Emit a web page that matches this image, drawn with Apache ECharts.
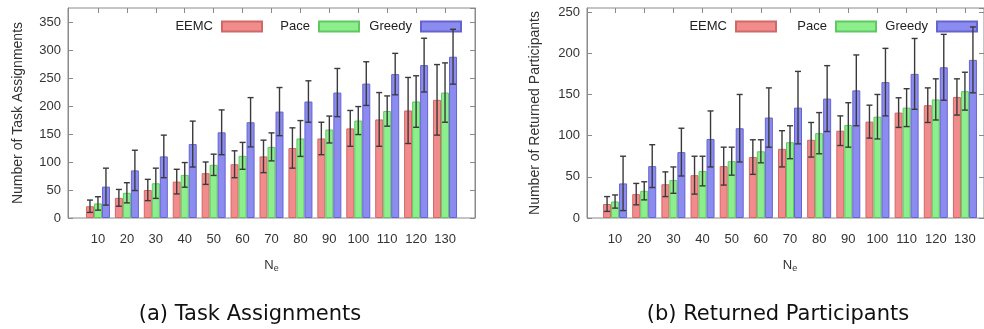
<!DOCTYPE html>
<html>
<head>
<meta charset="utf-8">
<script src="https://cdn.jsdelivr.net/npm/echarts@6/dist/echarts.min.js"></script>
<style>
html,body{margin:0;padding:0;background:#fff;}
#chart{width:984px;height:329px;}
</style>
</head>
<body>
<div id="chart"></div>
<script>
// ---- data ----
var categories = ['10','20','30','40','50','60','70','80','90','100','110','120','130'];
var seriesNames = ['EEMC','Pace','Greedy'];

// (a) Task Assignments
var taskEEMC     = [21, 36, 50, 65, 80, 96, 110, 125, 142, 160, 176, 192, 211];
var taskEEMCErr  = [11, 15, 19, 22, 20, 24, 29, 36, 29, 32, 48, 59, 63];
var taskPace     = [26, 45, 62, 77, 95, 111, 127, 142, 158, 174, 191, 208, 224];
var taskPaceErr  = [12, 18, 27, 22, 19, 24, 25, 32, 24, 25, 27, 46, 53];
var taskGreedy   = [56, 85, 110, 132, 153, 171, 190, 208, 224, 240, 257, 273, 288];
var taskGreedyErr= [33, 36, 38, 41, 40, 44, 43, 37, 43, 39, 37, 48, 49];

// (b) Returned Participants
var retEEMC      = [17, 29, 41, 52, 63, 74, 84, 95, 106, 117, 128, 137, 147];
var retEEMCErr   = [9, 13, 15, 23, 23, 21, 22, 21, 18, 20, 18, 21, 22];
var retPace      = [20, 33, 46, 57, 69, 81, 92, 103, 113, 123, 134, 144, 154];
var retPaceErr   = [8, 11, 16, 18, 17, 14, 20, 25, 27, 27, 23, 25, 23];
var retGreedy    = [42, 63, 80, 96, 109, 122, 134, 145, 155, 165, 175, 183, 192];
var retGreedyErr = [33, 26, 29, 34, 41, 36, 44, 40, 43, 41, 43, 40, 40];

// ---- styles ----
var FONT = 'Liberation Sans';
var fills   = ['#f28c8c', '#8cee8c', '#8c8cf0'];
var borders = ['#d06868', '#60c860', '#6464d0'];
var BAR_W = 8;
var offsets = [-BAR_W, 0, BAR_W];
var frameColor = '#8a8a8a';
var textColor = '#333';

function errData(mean, err) {
  return mean.map(function (m, i) { return [i, m, err[i]]; });
}
function errRender(offset) {
  return function (params, api) {
    var i = api.value(0), m = api.value(1), s = api.value(2);
    var top = api.coord([i, m + s]);
    var bot = api.coord([i, m - s]);
    var cx = top[0] + offset;
    var st = { stroke: '#3a3a3a', lineWidth: 1.4 };
    return {
      type: 'group',
      children: [
        { type: 'line', shape: { x1: cx, y1: top[1], x2: cx, y2: bot[1] }, style: st },
        { type: 'line', shape: { x1: cx - 3, y1: top[1], x2: cx + 3, y2: top[1] }, style: st },
        { type: 'line', shape: { x1: cx - 3, y1: bot[1], x2: cx + 3, y2: bot[1] }, style: st }
      ]
    };
  };
}

function frameY(max, showLabels, name, nameGap, gridIndex, position) {
  return {
    type: 'value', gridIndex: gridIndex, min: 0, max: max, interval: 50, position: position,
    name: showLabels ? name : '', nameLocation: 'middle', nameGap: nameGap,
    nameTextStyle: { fontFamily: FONT, fontSize: 14, color: textColor },
    axisLine: { show: true, lineStyle: { color: frameColor } },
    axisTick: { show: true, inside: true, length: 5, lineStyle: { color: frameColor } },
    axisLabel: { show: showLabels, showMaxLabel: false, margin: 7, fontFamily: FONT, fontSize: 13, color: textColor },
    splitLine: { show: false }
  };
}
function hiddenY(max, gridIndex) {
  return { type: 'value', gridIndex: gridIndex, min: 0, max: max, show: false, splitLine: { show: false } };
}
function catX(gridIndex, position, labels) {
  return {
    type: 'category', gridIndex: gridIndex, data: categories, position: position,
    boundaryGap: true,
    name: labels ? 'N{sub|e}' : '', nameLocation: 'middle', nameGap: 40,
    nameTextStyle: { fontFamily: FONT, fontSize: 13, color: textColor,
      rich: { sub: { fontFamily: FONT, fontSize: 9, color: textColor, verticalAlign: 'bottom', padding: [6, 0, 0, 0] } } },
    axisLine: { show: false },
    axisTick: { show: true, inside: true, length: 5, alignWithLabel: true, interval: 0, lineStyle: { color: frameColor } },
    axisLabel: { show: labels, interval: 0, margin: 15, fontFamily: FONT, fontSize: 13, color: textColor },
    splitLine: { show: false }
  };
}

var series = [];
function addChart(means, errs, xIdx, yIdx) {
  means.forEach(function (m, k) {
    series.push({
      name: seriesNames[k], type: 'bar', xAxisIndex: xIdx, yAxisIndex: yIdx,
      data: m, barWidth: BAR_W, barGap: '0%',
      itemStyle: { color: fills[k], borderColor: borders[k], borderWidth: 1 },
      emphasis: { disabled: true }, z: 2
    });
  });
  means.forEach(function (m, k) {
    series.push({
      type: 'custom', xAxisIndex: xIdx, yAxisIndex: yIdx,
      data: errData(m, errs[k]), renderItem: errRender(offsets[k]), z: 5, silent: true
    });
  });
}
addChart([taskEEMC, taskPace, taskGreedy], [taskEEMCErr, taskPaceErr, taskGreedyErr], 1, 2);
addChart([retEEMC, retPace, retGreedy], [retEEMCErr, retPaceErr, retGreedyErr], 4, 5);

// one legend item per component so that each key sits where gnuplot put it
function legendItem(name, right) {
  return {
    data: [{ name: name, icon: 'rect' }], right: right, top: 20, padding: 0, orient: 'horizontal', align: 'right',
    itemWidth: 40, itemHeight: 10, selectedMode: false,
    textStyle: { fontFamily: FONT, fontSize: 13, color: '#222', padding: [0, 4, 0, 0] }
  };
}
var legendRightA = [721, 624, 522];
var legendRightB = [207, 107, 6];
var legends = [];
seriesNames.forEach(function (n, k) {
  legends.push(legendItem(n, legendRightA[k]));
  legends.push(legendItem(n, legendRightB[k]));
});

var option = {
  animation: false,
  backgroundColor: '#fff',
  grid: [
    { left: 68, top: 8, width: 407, height: 210, show: true, borderColor: frameColor, borderWidth: 1, containLabel: false },
    { left: 83.5, top: 8, width: 376, height: 210, containLabel: false },
    { left: 587, top: 8, width: 405, height: 210, show: true, borderColor: frameColor, borderWidth: 1, containLabel: false },
    { left: 600.5, top: 8, width: 379, height: 210, containLabel: false }
  ],
  xAxis: [
    { type: 'value', gridIndex: 0, show: false },
    catX(1, 'bottom', true),
    catX(1, 'top', false),
    { type: 'value', gridIndex: 2, show: false },
    catX(3, 'bottom', true),
    catX(3, 'top', false)
  ],
  yAxis: [
    frameY(375, true, 'Number of Task Assignments', 43, 0, 'left'),
    frameY(375, false, '', 0, 0, 'right'),
    hiddenY(375, 1),
    frameY(255, true, 'Number of Returned Participants', 45, 2, 'left'),
    frameY(255, false, '', 0, 2, 'right'),
    hiddenY(255, 3)
  ],
  legend: legends,
  graphic: [
    { type: 'text', x: 250, y: 315, style: { text: '(a) Task Assignments', fontFamily: 'DejaVu Sans', fontSize: 21, fill: '#111', align: 'center', verticalAlign: 'middle' } },
    { type: 'text', x: 778, y: 315, style: { text: '(b) Returned Participants', fontFamily: 'DejaVu Sans', fontSize: 21, fill: '#111', align: 'center', verticalAlign: 'middle' } }
  ],
  series: series
};

var chart = echarts.init(document.getElementById('chart'), null, { renderer: 'canvas' });
chart.setOption(option);
</script>
</body>
</html>
